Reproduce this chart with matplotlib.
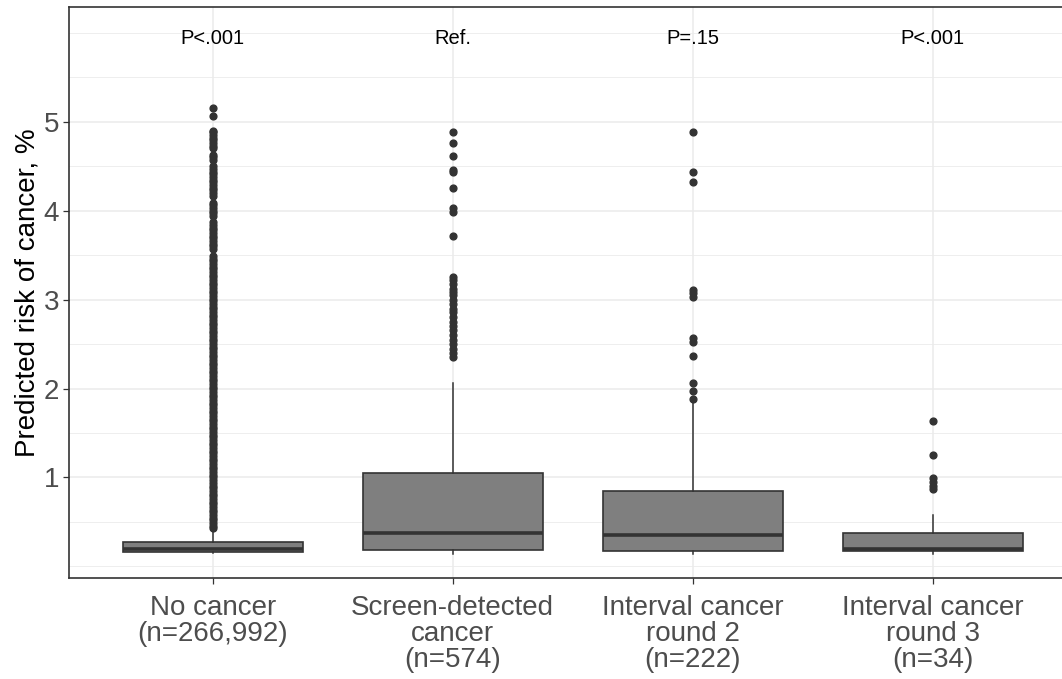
import matplotlib
matplotlib.use("Agg")
import matplotlib.pyplot as plt
from matplotlib.ticker import FixedLocator

plt.rcParams["font.family"] = ["Liberation Sans", "DejaVu Sans"]

# Groups and their labels
groups = ["No cancer\n(n=266,992)",
          "Screen-detected\ncancer\n(n=574)",
          "Interval cancer\nround 2\n(n=222)",
          "Interval cancer\nround 3\n(n=34)"]
p_labels = ["P<.001", "Ref.", "P=.15", "P<.001"]

# Box summary statistics (predicted risk, %)
whisker_low = [0.15, 0.14, 0.14, 0.14]
q1 = [0.16, 0.19, 0.17, 0.17]
median = [0.195, 0.375, 0.355, 0.20]
q3 = [0.27, 1.056, 0.85, 0.375]
whisker_high = [0.42, 2.06, 1.85, 0.58]

# Outlying observations per group
outliers_no_cancer = [
    0.43, 0.46, 0.49, 0.52, 0.55, 0.58, 0.61, 0.64, 0.67, 0.70,
    0.73, 0.76, 0.79, 0.82, 0.85, 0.88, 0.91, 0.94, 0.97, 1.00,
    1.03, 1.06, 1.09, 1.12, 1.15, 1.18, 1.21, 1.24, 1.27, 1.30,
    1.33, 1.36, 1.39, 1.42, 1.45, 1.48, 1.51, 1.54, 1.57, 1.60,
    1.63, 1.66, 1.69, 1.72, 1.75, 1.78, 1.81, 1.84, 1.87, 1.90,
    1.93, 1.96, 1.99, 2.02, 2.05, 2.08, 2.11, 2.14, 2.17, 2.20,
    2.23, 2.26, 2.29, 2.32, 2.35, 2.38, 2.41, 2.44, 2.47, 2.50,
    2.53, 2.56, 2.59, 2.62, 2.65, 2.68, 2.71, 2.74, 2.77, 2.80,
    2.83, 2.86, 2.89, 2.92, 2.95, 2.98, 3.01, 3.04, 3.07, 3.10,
    3.13, 3.16, 3.19, 3.22, 3.25, 3.28, 3.31, 3.34, 3.37, 3.40,
    3.43, 3.46, 3.49, 3.57, 3.60, 3.63, 3.66, 3.69, 3.72, 3.75,
    3.78, 3.81, 3.84, 3.87, 3.94, 3.97, 4.00, 4.03, 4.06, 4.09,
    4.17, 4.20, 4.23, 4.26, 4.29, 4.32, 4.35, 4.38, 4.41, 4.44,
    4.47, 4.50, 4.57, 4.60, 4.63, 4.70, 4.73, 4.76, 4.79, 4.82,
    4.85, 4.88, 4.90, 5.07, 5.15,
]
outliers_screen = [
    4.89, 4.76, 4.61, 4.46, 4.43, 4.25, 4.03, 3.98, 3.72,
    3.25, 3.22, 3.17, 3.12, 3.09, 3.05, 3.00, 2.95, 2.90, 2.86,
    2.80, 2.75, 2.70, 2.66, 2.60, 2.55, 2.50, 2.45, 2.40, 2.35,
]
outliers_round2 = [
    4.88, 4.43, 4.32, 3.11, 3.07, 3.03, 2.57, 2.52, 2.37,
    2.06, 1.97, 1.88,
]
outliers_round3 = [1.64, 1.25, 0.99, 0.95, 0.91, 0.87]
outliers = [outliers_no_cancer, outliers_screen, outliers_round2, outliers_round3]

edge = "#333333"
fill = "#7F7F7F"
grid = "#EBEBEB"
tick_text = "#4D4D4D"

fig = plt.figure(figsize=(10.62, 6.79), dpi=100)
ax = fig.add_axes([68.7 / 1062, 101 / 679, (1076.7 - 68.7) / 1062, (672 - 101) / 679])

stats = []
for i in range(len(groups)):
    stats.append(dict(med=median[i], q1=q1[i], q3=q3[i],
                      whislo=whisker_low[i], whishi=whisker_high[i],
                      fliers=outliers[i]))

positions = list(range(1, len(groups) + 1))
ax.bxp(stats, positions=positions, widths=0.75, patch_artist=True,
       showcaps=False, zorder=3,
       boxprops=dict(facecolor=fill, edgecolor=edge, linewidth=1.2),
       whiskerprops=dict(color=edge, linewidth=1.1),
       medianprops=dict(color=edge, linewidth=2.6, solid_capstyle="butt"),
       flierprops=dict(marker="o", markerfacecolor=edge, markeredgecolor=edge,
                       markersize=4.9, linestyle="none"))

for x, lab in zip(positions, p_labels):
    ax.text(x, 5.94, lab, ha="center", va="center", fontsize=14.5,
            color="black", zorder=4)

ax.set_xlim(0.4, 4.6)
ax.set_ylim(-0.13, 6.29)

ax.set_yticks([1, 2, 3, 4, 5])
ax.set_yticklabels(["1", "2", "3", "4", "5"])
ax.yaxis.set_minor_locator(FixedLocator([0, 0.5, 1.5, 2.5, 3.5, 4.5, 5.5, 6]))
ax.set_xticks(positions)
ax.set_xticklabels(groups, linespacing=1.02)

ax.grid(True, which="major", color=grid, linewidth=1.1, zorder=0)
ax.grid(True, which="minor", axis="y", color=grid, linewidth=0.6, zorder=0)
ax.set_axisbelow(True)

ax.tick_params(axis="both", which="major", length=4, width=0.9, color=edge,
               labelsize=20, labelcolor=tick_text, pad=3)
ax.tick_params(axis="x", which="major", pad=8)
ax.tick_params(axis="y", which="minor", length=0)

for s in ax.spines.values():
    s.set_color(edge)
    s.set_linewidth(1.2)

ax.set_ylabel("Predicted risk of cancer, %", fontsize=20, color="black",
              labelpad=2)

fig.savefig("out.png", dpi=100, facecolor="white")
